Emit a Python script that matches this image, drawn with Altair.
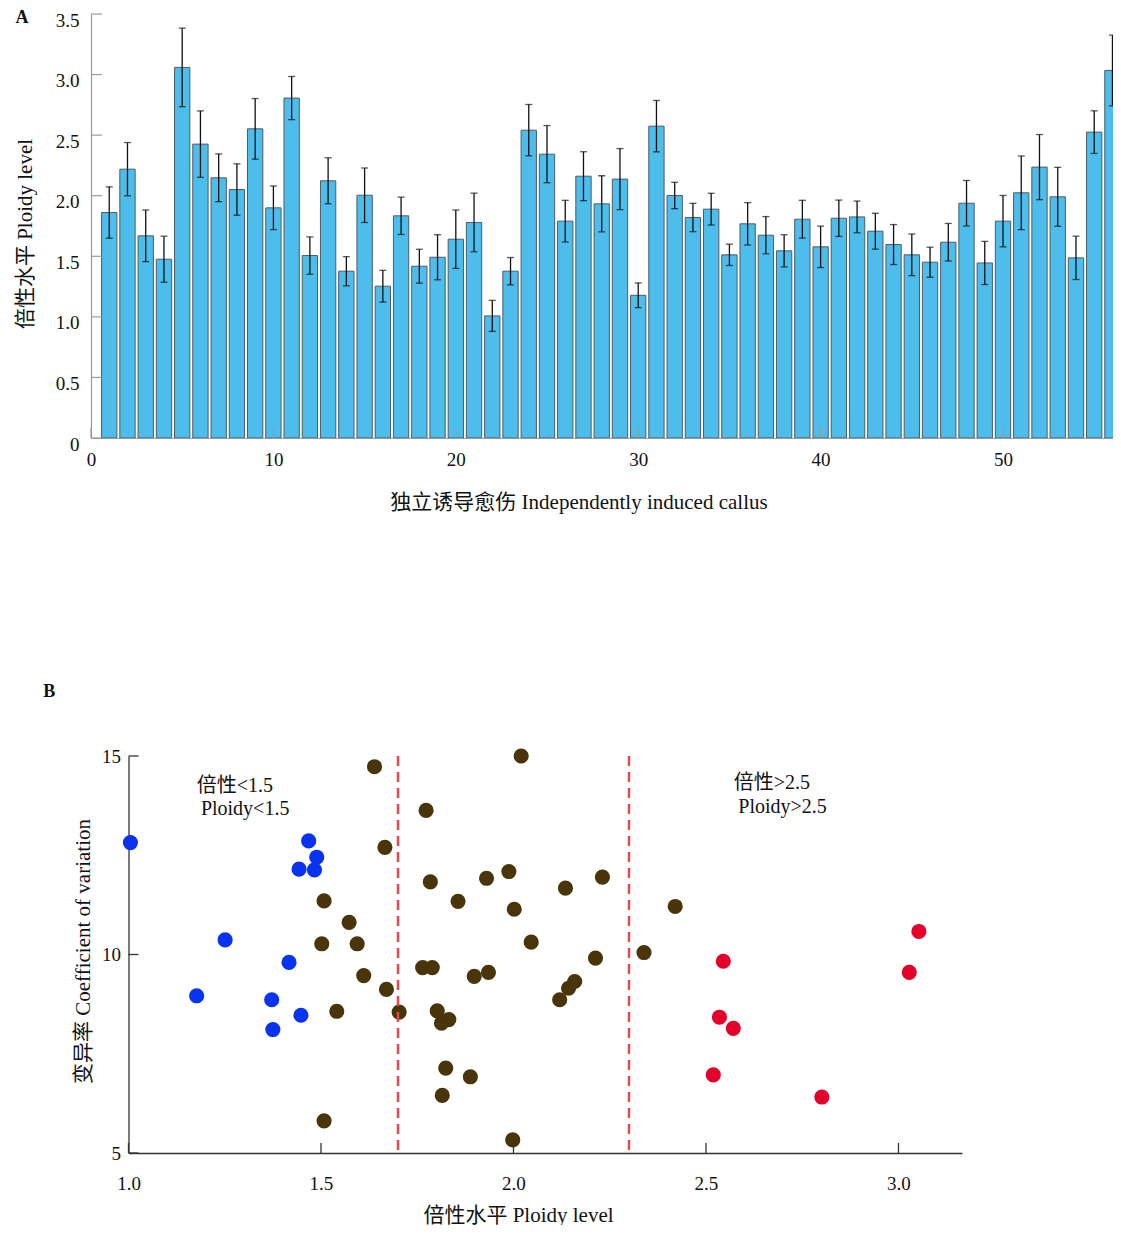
import altair as alt
import pandas as pd

# ---------------- Panel A data: ploidy level of 56 independently induced calli
callus_id = list(range(1, 57))
ploidy_mean = [1.861, 2.219, 1.669, 1.476, 3.059, 2.426, 2.148, 2.051, 2.552, 1.900,
               2.806, 1.506, 2.123, 1.377, 2.004, 1.253, 1.834, 1.418, 1.492, 1.641,
               1.779, 1.008, 1.377, 2.541, 2.343, 1.790, 2.161, 1.933, 2.137, 1.178,
               2.574, 2.002, 1.820, 1.889, 1.512, 1.768, 1.674, 1.545, 1.806, 1.578,
               1.814, 1.825, 1.707, 1.597, 1.512, 1.451, 1.616, 1.938, 1.445, 1.790,
               2.024, 2.236, 1.991, 1.487, 2.525, 3.034]
ploidy_err = [0.212, 0.220, 0.213, 0.190, 0.324, 0.274, 0.197, 0.212, 0.250, 0.180,
              0.178, 0.154, 0.190, 0.121, 0.225, 0.131, 0.154, 0.140, 0.186, 0.241,
              0.242, 0.128, 0.113, 0.212, 0.236, 0.172, 0.202, 0.232, 0.252, 0.102,
              0.212, 0.109, 0.117, 0.131, 0.088, 0.175, 0.154, 0.133, 0.156, 0.171,
              0.150, 0.131, 0.148, 0.165, 0.172, 0.124, 0.155, 0.188, 0.178, 0.212,
              0.304, 0.269, 0.243, 0.179, 0.176, 0.292]
a_y_ticks = [0, 0.5, 1.0, 1.5, 2.0, 2.5, 3.0, 3.5]
a_x_ticks = [0, 10, 20, 30, 40, 50]

# ---------------- Panel B data: ploidy level vs coefficient of variation
low_ploidy = [1.005, 1.251, 1.177, 1.417, 1.372, 1.375, 1.448, 1.468, 1.489, 1.443, 1.483]
low_cv = [12.82, 10.37, 8.96, 9.80, 8.86, 8.11, 8.47, 12.86, 12.45, 12.15, 12.13]
mid_ploidy = [1.639, 2.020, 1.773, 1.666, 1.784, 1.930, 1.988, 1.856, 2.002, 1.508,
              1.573, 1.502, 1.594, 2.046, 1.611, 1.670, 1.541, 1.703, 1.764, 1.789,
              1.898, 1.935, 1.802, 1.813, 1.832, 1.824, 1.888, 1.815, 1.508, 1.998,
              2.135, 2.231, 2.420, 2.339, 2.213, 2.159, 2.143, 2.120]
mid_cv = [14.73, 15.00, 13.63, 12.70, 11.83, 11.92, 12.09, 11.34, 11.14, 11.35,
          10.81, 10.27, 10.27, 10.31, 9.47, 9.12, 8.57, 8.55, 9.67, 9.67,
          9.45, 9.55, 8.58, 8.27, 8.36, 7.14, 6.92, 6.45, 5.81, 5.33,
          11.67, 11.95, 11.21, 10.05, 9.91, 9.32, 9.15, 8.86]
high_ploidy = [2.545, 3.053, 3.028, 2.535, 2.571, 2.519, 2.801]
high_cv = [9.83, 10.58, 9.55, 8.42, 8.14, 6.97, 6.41]
cut_lines = [1.7, 2.3]
b_x_ticks = [1.0, 1.5, 2.0, 2.5, 3.0]
b_y_ticks = [5, 10, 15]
annot_text = ["倍性<1.5", "Ploidy<1.5", "倍性>2.5", "Ploidy>2.5"]
annot_ploidy = [1.177, 1.188, 2.572, 2.584]
annot_cv = [14.255, 13.667, 14.32, 13.717]

FONT = "'Liberation Serif', 'Noto Sans CJK SC', serif"
TXT = "#111111"
LAB = 19      # tick label size
TIT = 21      # axis title size
W_A, H_A = 1022, 424
B_LEFT = 37.5           # panel B plot starts this far right of panel A's
W_B, H_B = 871, 397

one = pd.DataFrame({"k": [0]})

# ================= Panel A =================
bars_df = pd.DataFrame({"id": callus_id, "mean": ploidy_mean, "err": ploidy_err})
xA = alt.Scale(domain=[0, 56.03], nice=False, zero=False)
yA = alt.Scale(domain=[0, 3.5], nice=False, zero=False)

baseA = alt.Chart(bars_df).transform_calculate(
    x0="datum.id - 0.42", x1="datum.id + 0.42",
    lo="datum.mean - datum.err", hi="datum.mean + datum.err")

axA_x = alt.Axis(values=a_x_ticks, format="d", ticks=False, grid=False,
                 domainColor="#9a9a9a", domainWidth=1.2,
                 labelFont=FONT, labelFontSize=LAB, labelColor=TXT, labelPadding=12,
                 labelFlush=False, labelOverlap=False,
                 title="独立诱导愈伤 Independently induced callus",
                 titleFont=FONT, titleFontSize=TIT, titleFontWeight="normal", titleColor=TXT,
                 titleX=487.5, titleY=64, titleAlign="center", titleBaseline="middle")
axA_y = alt.Axis(values=a_y_ticks,
                 labelExpr="datum.value == 0 ? '0' : format(datum.value, '.1f')",
                 ticks=False, grid=False, domainColor="#9a9a9a", domainWidth=1.2,
                 labelFont=FONT, labelFontSize=LAB, labelColor=TXT, labelPadding=12,
                 labelBaseline="top", labelOffset=-3, labelFlush=False, labelOverlap=False,
                 title="倍性水平 Ploidy level", titleAngle=270,
                 titleFont=FONT, titleFontSize=TIT, titleFontWeight="normal", titleColor=TXT,
                 titleX=-66, titleY=219.5, titleAlign="center", titleBaseline="middle")

bars = baseA.mark_bar(fill="#4DBDEC", stroke="#4f5b66", strokeWidth=1, clip=True).encode(
    x=alt.X("x0:Q", scale=xA, axis=axA_x),
    x2="x1:Q",
    y=alt.Y("mean:Q", scale=yA, axis=axA_y),
    y2=alt.datum(0),
)
err_rule = baseA.mark_rule(color="#111111", strokeWidth=1.3, clip=True).encode(
    x=alt.X("id:Q", scale=xA, axis=axA_x), y=alt.Y("lo:Q", scale=yA, axis=axA_y), y2="hi:Q")
cap_hi = baseA.mark_tick(orient="horizontal", size=7, thickness=1.3, color="#111111", clip=True).encode(
    x=alt.X("id:Q", scale=xA, axis=axA_x), y=alt.Y("hi:Q", scale=yA, axis=axA_y))
cap_lo = baseA.mark_tick(orient="horizontal", size=7, thickness=1.3, color="#111111", clip=True).encode(
    x=alt.X("id:Q", scale=xA, axis=axA_x), y=alt.Y("lo:Q", scale=yA, axis=axA_y))
tickA_y = alt.Chart(pd.DataFrame({"v": a_y_ticks})).mark_rule(color="#9a9a9a", strokeWidth=1.2).encode(
    y=alt.Y("v:Q", scale=yA, axis=axA_y), x=alt.value(0), x2=alt.value(11))
tickA_x = alt.Chart(pd.DataFrame({"v": a_x_ticks})).mark_rule(color="#9a9a9a", strokeWidth=1.2).encode(
    x=alt.X("v:Q", scale=xA, axis=axA_x), y=alt.value(H_A), y2=alt.value(H_A - 10))
labA = alt.Chart(one).mark_text(text="A", font=FONT, fontSize=18, fontWeight="bold",
                                 color=TXT, align="center", baseline="middle").encode(
    x=alt.value(-69), y=alt.value(4))
frameA = alt.Chart(one).mark_rule(color="white", strokeWidth=1).encode(
    x=alt.value(-82), y=alt.value(-5), y2=alt.value(H_A))

panelA = alt.layer(bars, err_rule, cap_hi, cap_lo, tickA_y, tickA_x, labA, frameA).properties(
    width=W_A, height=H_A)

# ================= Panel B =================
pts_df = pd.DataFrame({
    "px": low_ploidy + mid_ploidy + high_ploidy,
    "cv": low_cv + mid_cv + high_cv,
    "grp": ["low"] * len(low_ploidy) + ["mid"] * len(mid_ploidy) + ["high"] * len(high_ploidy),
})
xB = alt.Scale(domain=[1.0, 3.165], range=[B_LEFT, W_B], nice=False, zero=False)
yB = alt.Scale(domain=[5, 15], nice=False, zero=False)

axB_x = alt.Axis(values=b_x_ticks, format=".1f", ticks=False, grid=False,
                 domainColor="#333333", domainWidth=1.3,
                 labelFont=FONT, labelFontSize=LAB, labelColor=TXT, labelPadding=21,
                 labelFlush=False, labelOverlap=False,
                 title="倍性水平 Ploidy level",
                 titleFont=FONT, titleFontSize=TIT, titleFontWeight="normal", titleColor=TXT,
                 titleX=427, titleY=62, titleAlign="center", titleBaseline="middle")
axB_y = alt.Axis(values=b_y_ticks, format="d", ticks=False, grid=False,
                 domainColor="#333333", domainWidth=1.3, offset=-B_LEFT,
                 labelFont=FONT, labelFontSize=LAB, labelColor=TXT, labelPadding=8,
                 labelFlush=False, labelOverlap=False,
                 title="变异率 Coefficient of variation", titleAngle=270,
                 titleFont=FONT, titleFontSize=TIT, titleFontWeight="normal", titleColor=TXT,
                 titleX=-45.5, titleY=195, titleAlign="center", titleBaseline="middle")

scatter = alt.Chart(pts_df).mark_circle(size=230, opacity=1).encode(
    x=alt.X("px:Q", scale=xB, axis=axB_x),
    y=alt.Y("cv:Q", scale=yB, axis=axB_y),
    color=alt.Color("grp:N", legend=None,
                    scale=alt.Scale(domain=["low", "mid", "high"],
                                    range=["#0A33EE", "#4A340A", "#E4002B"])),
)
dashes = alt.Chart(pd.DataFrame({"cut": cut_lines})).mark_rule(
    color="#E8474F", strokeDash=[10, 6], strokeWidth=2.5).encode(
    x=alt.X("cut:Q", scale=xB, axis=axB_x))
tickB_y = alt.Chart(pd.DataFrame({"v": b_y_ticks})).mark_rule(color="#333333", strokeWidth=1.3).encode(
    y=alt.Y("v:Q", scale=yB, axis=axB_y), x=alt.value(B_LEFT), x2=alt.value(B_LEFT + 10))
tickB_x = alt.Chart(pd.DataFrame({"v": b_x_ticks})).mark_rule(color="#333333", strokeWidth=1.3).encode(
    x=alt.X("v:Q", scale=xB, axis=axB_x), y=alt.value(H_B), y2=alt.value(H_B - 10))

annot_df = pd.DataFrame({"t": annot_text, "ax": annot_ploidy, "ay": annot_cv})
annot = alt.Chart(annot_df).mark_text(font=FONT, fontSize=20, color=TXT,
                                       align="left", baseline="middle").encode(
    text="t:N",
    x=alt.X("ax:Q", scale=xB, axis=axB_x),
    y=alt.Y("ay:Q", scale=yB, axis=axB_y))
labB = alt.Chart(one).mark_text(text="B", font=FONT, fontSize=18, fontWeight="bold",
                                 color=TXT, align="center", baseline="middle").encode(
    x=alt.value(-41.8), y=alt.value(-64))

panelB = alt.layer(scatter, dashes, tickB_y, tickB_x, annot, labB).properties(
    width=W_B, height=H_B)

chart = alt.vconcat(panelA, panelB, spacing=318, bounds="flush").properties(
    padding=0, background="white"
).configure_view(stroke=None)

chart.save("out.html", embed_options={"renderer": "svg", "actions": False})
